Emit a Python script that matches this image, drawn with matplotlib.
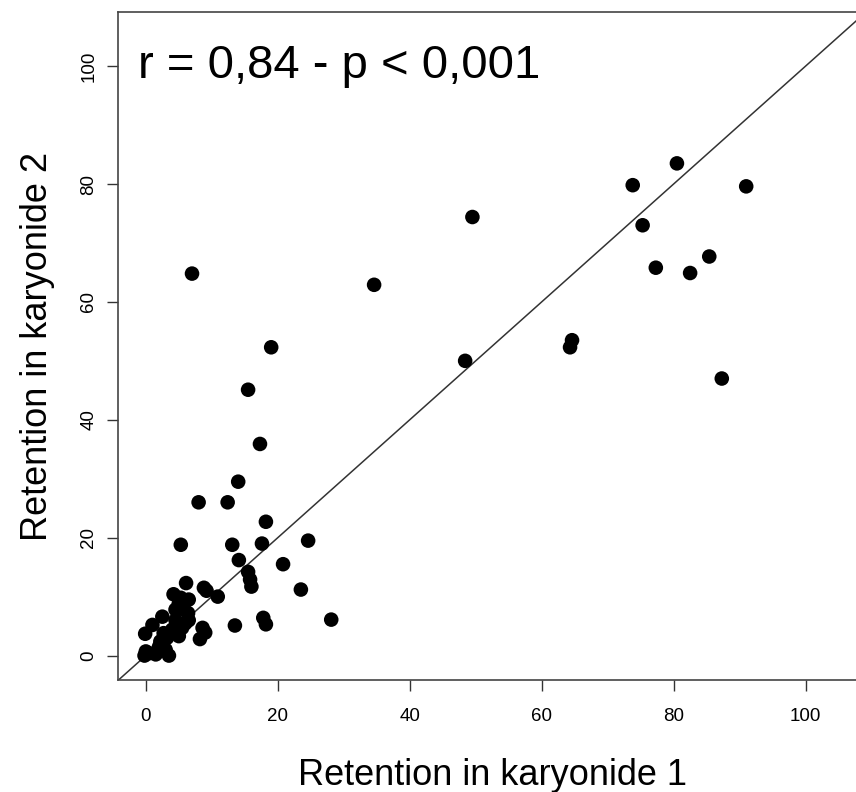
import matplotlib.pyplot as plt

# retention values (%)
karyonide1 = [7.0, 19.0, 15.5, 17.3, 34.6, 49.5, 48.4, 64.3, 64.6, 73.8, 75.3, 80.5,
              77.3, 82.5, 85.4, 91.0, 87.3, 14.0, 8.0, 12.4, 5.3, 13.1, 17.6, 18.2,
              24.6, 20.8, 14.1, 15.5, 15.8, 16.0, 23.5, 13.5, 17.8, 18.2, 28.1, 6.1,
              8.8, 9.2, 10.9, 8.6, 9.0, 8.2,
              4.2, 5.3, 6.5, 4.5, 5.8, 6.4, 2.5, 1.0, -0.1, 2.7, 4.0, 5.5, 5.0,
              0.0, -0.2, 1.5, 3.0, 3.5, 2.2, 0.5, 2.0, 4.5, 6.0, 3.2, 5.0, 6.5]
karyonide2 = [64.8, 52.3, 45.1, 35.9, 62.9, 74.4, 50.0, 52.3, 53.5, 79.8, 73.0, 83.5,
              65.8, 64.9, 67.7, 79.6, 47.0, 29.5, 26.0, 26.0, 18.8, 18.8, 19.0, 22.7,
              19.5, 15.5, 16.2, 14.2, 12.9, 11.7, 11.2, 5.1, 6.4, 5.3, 6.1, 12.3,
              11.5, 11.0, 10.0, 4.7, 3.9, 2.8,
              10.4, 9.8, 9.5, 7.8, 7.8, 7.2, 6.6, 5.2, 3.7, 3.8, 4.4, 4.7, 3.3,
              0.7, 0.0, 0.2, 1.0, 0.0, 2.4, 0.4, 1.5, 6.0, 5.5, 3.0, 8.8, 6.0]

plt.rcParams['font.family'] = ['Liberation Sans', 'DejaVu Sans']

fig = plt.figure(figsize=(8.56, 7.92), dpi=100)
ax = fig.add_axes([0.138, 0.141, 0.874, 0.844])

ax.scatter(karyonide1, karyonide2, s=110, color='black', edgecolors='none', zorder=3)
ax.plot([-10, 120], [-10, 120], color='#333333', lw=1.1, zorder=2)

ax.set_xlim(-4.2, 109.2)
ax.set_ylim(-4.2, 109.2)
ticks = [0, 20, 40, 60, 80, 100]
ax.set_xticks(ticks)
ax.set_yticks(ticks)
ax.tick_params(labelsize=13.5, length=8, width=1, color='#333333')
ax.tick_params(axis='x', pad=12)
ax.tick_params(axis='y', pad=7)
for lab in ax.get_yticklabels():
    lab.set_rotation(90)
    lab.set_va('center')
for sp in ax.spines.values():
    sp.set_color('#444444')
    sp.set_linewidth(1.2)

ax.set_xlabel('Retention in karyonide 1', fontsize=26, labelpad=24)
ax.set_ylabel('Retention in karyonide 2', fontsize=26, labelpad=18)
ax.text(0.027, 0.952, 'r = 0,84 - p < 0,001', transform=ax.transAxes,
        fontsize=34, va='top', ha='left')

fig.savefig('out.png', dpi=100)
